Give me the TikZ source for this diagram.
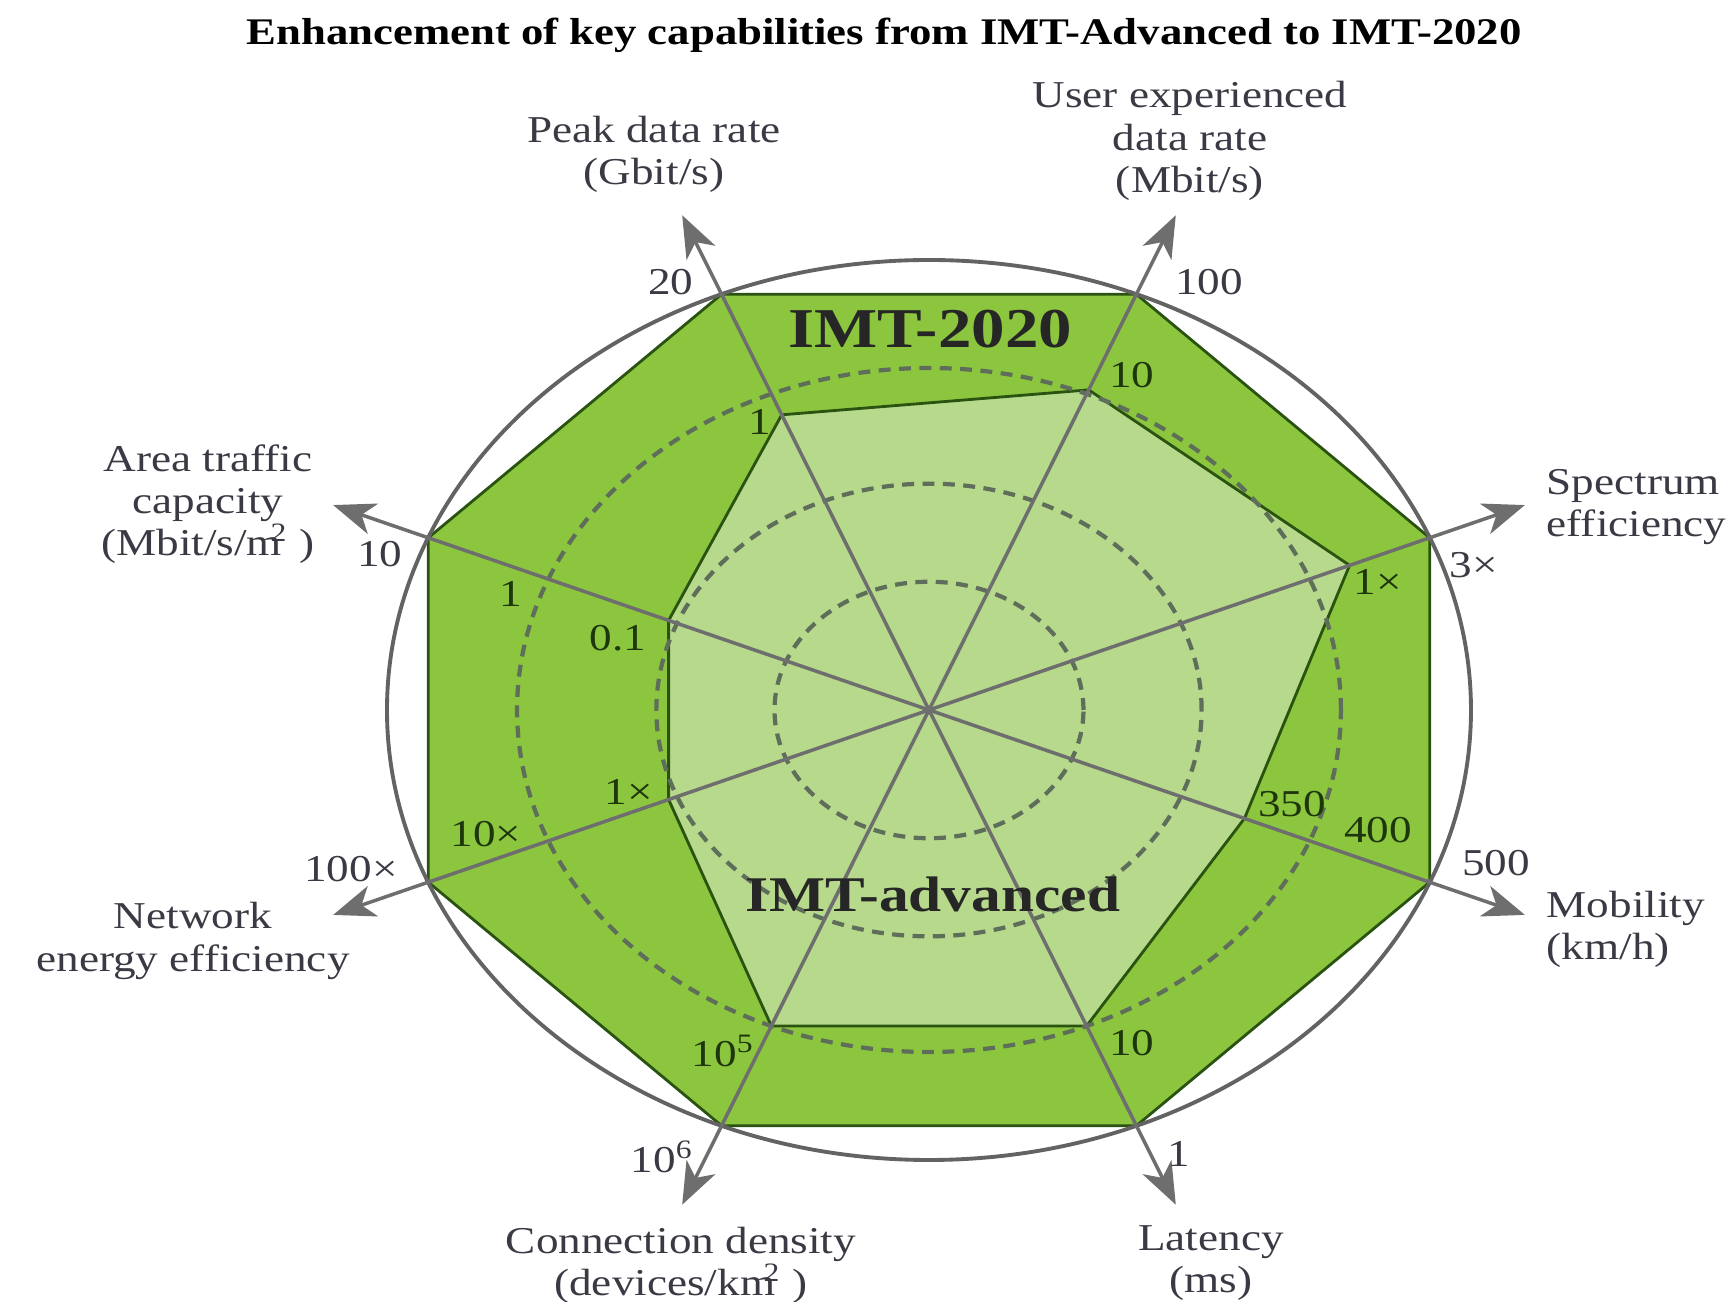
\documentclass[tikz,border=0pt]{standalone}
\usepackage{fontspec}
\setmainfont[FakeStretch=1.19]{Liberation Serif}
\usepackage{tikz}
\usetikzlibrary{arrows.meta}
\usetikzlibrary{calc}
\usetikzlibrary{positioning}
\definecolor{imtgreen}{HTML}{8CC63E}
\definecolor{advgreen}{HTML}{B7D98B}
\definecolor{edgegreen}{HTML}{2A5210}
\definecolor{axisgray}{HTML}{6E6E6E}
\definecolor{ringgray}{HTML}{5E6E5A}
\definecolor{labelgray}{HTML}{3A3A44}
\definecolor{innerlabel}{HTML}{1E360B}
\tikzset{
    imt area/.style={
        fill=imtgreen,
        draw=edgegreen,
        line width=0.8pt
    },
    adv area/.style={
        fill=advgreen,
        draw=edgegreen,
        line width=0.8pt
    },
    ring/.style={
        draw=ringgray,
        line width=1.2pt,
        dash pattern=on 3.4pt off 2.4pt
    },
    rim/.style={
        draw=axisgray!90!black,
        line width=1.1pt
    },
    axis line/.style={
        draw=axisgray,
        line width=1pt,
        -{Stealth[length=4.2mm,width=3.2mm,inset=1.2mm]}
    },
    axis label/.style={
        text=labelgray,
        align=center,
        inner sep=0pt,
        font=\fontsize{10.8}{12}\selectfont
    },
    scale label/.style={
        text=labelgray,
        inner sep=0pt,
        font=\fontsize{10.8}{12}\selectfont
    },
    inner scale/.style={
        scale label,
        text=innerlabel
    },
    gen label/.style={
        text=black!85,
        inner sep=0pt,
        font=\fontsize{16}{17}\selectfont\bfseries
    }
}

\begin{document}
\begin{tikzpicture}
  \useasboundingbox (-9.29,7.10) rectangle (8.02,-5.92);
  \coordinate (O) at (0,0);
  % corners of both polygons and the arrow tips
  \foreach \a/\n/\f in {22.5/spec/0.84,67.5/user/0.77,112.5/peak/0.71,157.5/area/0.52,
                        202.5/netw/0.52,247.5/conn/0.76,292.5/lat/0.76,337.5/mob/0.63}{
    \coordinate (imt-\n) at (\a:5.42 and 4.50);
    \coordinate (adv-\n) at ($(O)!\f!(imt-\n)$);
    \coordinate (tip-\n) at ($(O)!1.19!(imt-\n)$);
  }

  \draw[imt area] (imt-spec) -- (imt-user) -- (imt-peak) -- (imt-area)
    -- (imt-netw) -- (imt-conn) -- (imt-lat) -- (imt-mob) -- cycle;
  \draw[adv area] (adv-spec) -- (adv-user) -- (adv-peak) -- (adv-area)
    -- (adv-netw) -- (adv-conn) -- (adv-lat) -- (adv-mob) -- cycle;
  \foreach \r in {0.285,0.503,0.76}
    \draw[ring] (O) ellipse [x radius=5.42*\r, y radius=4.50*\r];
  \draw[rim] (O) ellipse [x radius=5.42, y radius=4.50];
  \foreach \n in {spec,user,peak,area,netw,conn,lat,mob}
    \draw[axis line] (O) -- (tip-\n);

  \node[font=\fontsize{10.7}{12}\selectfont\bfseries] (title) at (-0.45,6.75)
    {Enhancement of key capabilities from IMT-Advanced to IMT-2020};

  \node[gen label] (imt2020) at (0.01,3.81) {IMT-2020};
  \node[gen label,font=\fontsize{14.2}{17}\selectfont\bfseries] (imtadv) at (0.04,-1.84)
    {IMT-advanced};

  \node[axis label] (lbl-peak) at (-2.75,5.56) {Peak data rate\\(Gbit/s)};
  \node[axis label] (lbl-user) at (2.61,5.69) {User experienced\\data rate\\(Mbit/s)};
  \node[axis label] (lbl-area) at (-7.21,2.06)
    {Area traffic\\capacity\\(Mbit/s/m\kern-0.3em\textsuperscript{2}\ )};
  \node[axis label,anchor=west,align=left] (lbl-spec) at (6.17,2.03)
    {Spectrum\\efficiency};
  \node[axis label] (lbl-netw) at (-7.36,-2.31) {Network\\energy efficiency};
  \node[axis label,anchor=west,align=left] (lbl-mob) at (6.17,-2.19)
    {Mobility\\(km/h)};
  \node[axis label] (lbl-conn) at (-2.48,-5.55)
    {Connection density\\(devices/km\kern-0.3em\textsuperscript{2}\ )};
  \node[axis label] (lbl-lat) at (2.82,-5.53) {Latency\\(ms)};

  % values outside the IMT-2020 octagon
  \foreach \x/\y/\t/\n in {-2.58/4.28/20/v-peak, 2.80/4.28/100/v-user,
                           5.45/1.45/3×/v-spec, -5.49/1.56/10/v-area,
                           -5.78/-1.59/100×/v-netw, 5.67/-1.53/500/v-mob,
                           2.50/-4.44/1/v-lat, -2.67/-4.47/10\textsuperscript{6}/v-conn}
    \node[scale label] (\n) at (\x,\y) {\t};
  % values on the green areas
  \foreach \x/\y/\t/\n in {-1.69/2.88/1/a-peak, 2.03/3.35/10/a-user,
                           4.49/1.28/1×/a-spec, -4.18/1.16/1/m-area,
                           -3.11/0.72/0.1/a-area, -3.00/-0.82/1×/a-netw,
                           -4.43/-1.24/10×/m-netw, 3.63/-0.94/350/a-mob,
                           4.49/-1.20/400/m-mob, 2.03/-3.33/10/a-lat,
                           -2.06/-3.41/10\textsuperscript{5}/a-conn}
    \node[inner scale] (\n) at (\x,\y) {\t};
\end{tikzpicture}
\end{document}
